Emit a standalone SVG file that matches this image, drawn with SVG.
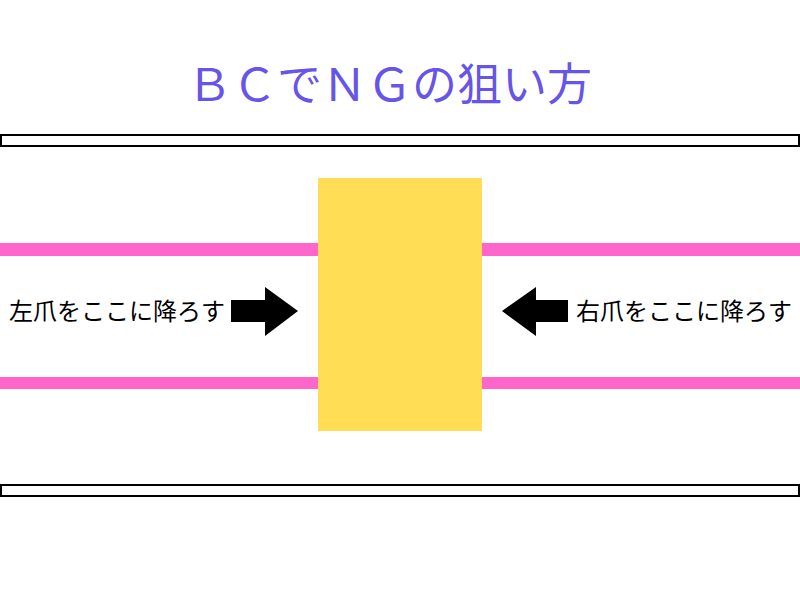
<svg xmlns="http://www.w3.org/2000/svg" width="800" height="600" viewBox="0 0 800 600">
<style>
.frame{fill:#fff;stroke:#000;stroke-width:2}
.rail{fill:#ff66cc}
.lbl{font-family:"Noto Sans CJK JP","Noto Sans",sans-serif;font-size:24px;fill:#000}
.title{font-family:"Noto Sans CJK JP","Noto Sans",sans-serif;font-size:45px;fill:#6655e6}
.arrow{fill:#000}
</style>
<rect width="800" height="600" fill="#fff"/>
<text class="title" x="187" y="101">ＢＣでＮＧの狙い方</text>
<g id="frame-top"><rect class="frame" x="1" y="135" width="798" height="11"/></g>
<g id="frame-bottom"><rect class="frame" x="1" y="485" width="798" height="11"/></g>
<g id="rails">
<rect class="rail" x="0" y="243" width="800" height="13"/>
<rect class="rail" x="0" y="377" width="800" height="12"/>
</g>
<g id="block"><rect x="318" y="178" width="164" height="253" fill="#ffdd55"/></g>
<g id="left-label"><text class="lbl" x="9" y="320">左爪をここに降ろす</text></g>
<g id="right-label"><text class="lbl" x="576" y="320">右爪をここに降ろす</text></g>
<g id="connectors">
<polygon class="arrow" points="231,300 265,300 265,287 298,311 265,336 265,322 231,322"/>
<polygon class="arrow" points="568,300 536,300 536,287 502,311 536,336 536,322 568,322"/>
</g>
</svg>
